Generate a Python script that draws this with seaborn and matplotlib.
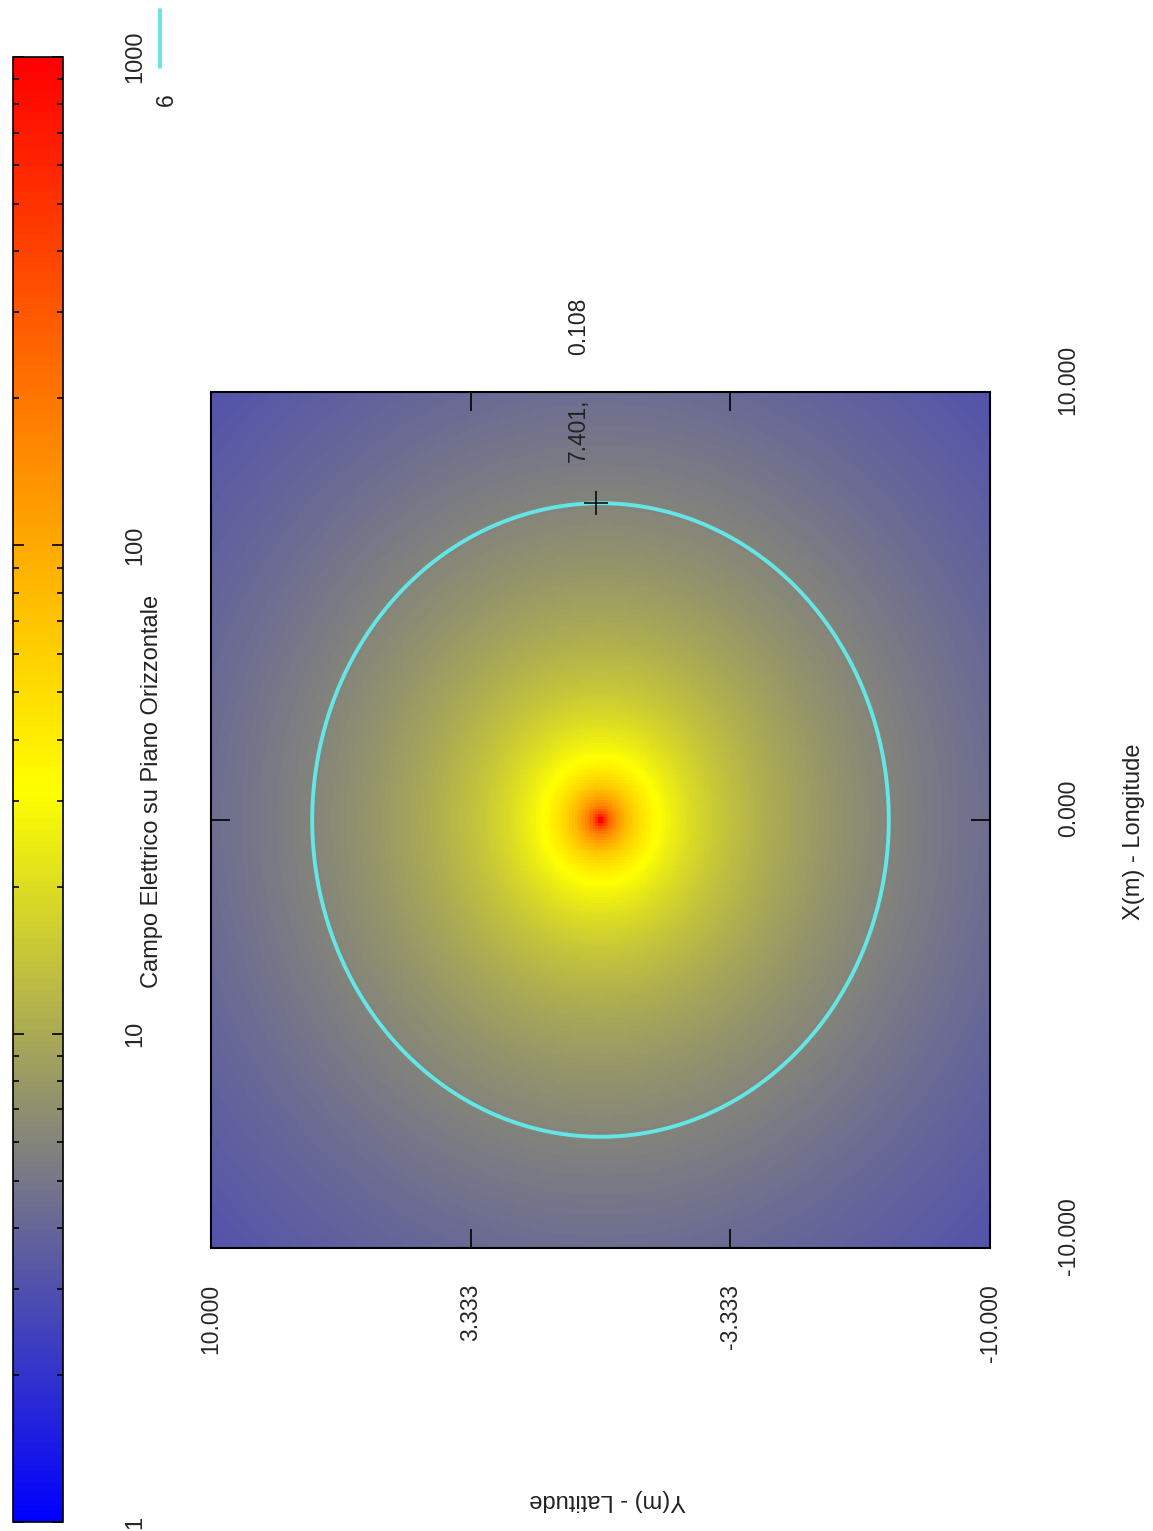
import numpy as np
import pandas as pd
import seaborn as sns
import matplotlib.pyplot as plt
from matplotlib.colors import LinearSegmentedColormap, LogNorm
from matplotlib.lines import Line2D
from matplotlib.ticker import LogLocator
from matplotlib import transforms

# radial profile of the field (distance from source [m], field value)
radius = [0.05, 0.15, 0.5, 1.25, 3.0, 7.401, 10.0, 14.14]
field = [1000, 420, 115, 38, 15, 6, 4.4, 3.1]

x_ticks = [-10.0, 0.0, 10.0]            # X(m) - Longitude
y_ticks = [10.0, 3.333, -3.333, -10.0]  # Y(m) - Latitude
cbar_ticks = [1, 10, 100, 1000]
contour_level = 6
probe_x, probe_y = 7.401, 0.108
title = "Campo Elettrico su Piano Orizzontale"

W, H = 1153, 1531
n = 300
cyan = "#62e6e6"
fs_tick = 16.5
fs_lab = 17

# grid: rows = X from +10 (top) to -10, columns = Y from +10 (left) to -10
xs = 10 - (np.arange(n) + 0.5) * 20 / n
ys = 10 - (np.arange(n) + 0.5) * 20 / n
R = np.hypot(xs[:, None], ys[None, :])
logE = np.interp(np.log10(np.clip(R, radius[0], None)), np.log10(radius), np.log10(field))
df = pd.DataFrame(10 ** logE, index=np.round(xs, 3), columns=np.round(ys, 3))

def col(v):
    return (10 - v) / 20 * n

def row(u):
    return (10 - u) / 20 * n

sns.set_theme(style="white")
plt.rcParams["font.family"] = ["Liberation Sans", "DejaVu Sans"]
plt.rcParams["font.size"] = fs_tick
plt.rcParams["text.color"] = "#222222"

cmap = LinearSegmentedColormap.from_list(
    "gp", [(0.0, "#0000ff"), (0.25, "#808080"), (0.5, "#ffff00"), (1.0, "#ff0000")])

fig = plt.figure(figsize=(W / 100, H / 100), dpi=100)
ax = fig.add_axes([211 / W, 1 - 1248 / H, 779 / W, 856 / H])
cax = fig.add_axes([13 / W, 1 - 1522 / H, 50 / W, 1465 / H])

sns.heatmap(df, ax=ax, cbar_ax=cax, cmap=cmap, norm=LogNorm(1, 1000),
            xticklabels=False, yticklabels=False, rasterized=True)
ax.set_axisbelow(False)
cax.set_axisbelow(False)

for s in ax.spines.values():
    s.set_visible(True)
    s.set_color("black")
    s.set_linewidth(1.5)

# contour of the level 6
ax.contour(np.arange(n) + 0.5, np.arange(n) + 0.5, df.values,
           levels=[contour_level], colors=cyan, linewidths=2.8)

# probe point
px, py = col(probe_y), row(probe_x)
ax.plot(px, py, marker="+", ms=17, mew=1.1, color="black")
ax.annotate(f"{probe_x:.3f},", xy=(px, py), xytext=(-18, 41), textcoords="offset pixels",
            rotation=90, ha="center", va="bottom", fontsize=fs_tick)
ax.annotate(f"{probe_y:.3f}", xy=(px, py), xytext=(-18, 148), textcoords="offset pixels",
            rotation=90, ha="center", va="bottom", fontsize=fs_tick)

# ticks
ax.set_xticks([col(v) for v in y_ticks])
ax.set_xticklabels([f"{v:.3f}" for v in y_ticks])
ax.set_yticks([row(u) for u in x_ticks])
ax.set_yticklabels([f"{u:.3f}" for u in x_ticks])
ax.tick_params(axis="both", direction="in", length=14, width=1.2, color="black",
               top=True, bottom=True, left=True, right=True,
               labelleft=False, labelright=True, labelsize=fs_tick)
ax.tick_params(axis="x", pad=26)
ax.tick_params(axis="y", pad=48)
for lab in ax.get_xticklabels():
    lab.set_rotation(90)
    lab.set_ha("center")
    lab.set_va("top")
for lab in ax.get_yticklabels():
    lab.set_rotation(90)
    lab.set_ha("left")
    lab.set_va("center")
    lab.set_transform(lab.get_transform() +
                      transforms.ScaledTranslation(0, 0.12, fig.dpi_scale_trans))

# colorbar
cbar = ax.collections[0].colorbar
cbar.set_ticks(cbar_ticks)
cbar.set_ticklabels([str(t) for t in cbar_ticks])
cax.yaxis.set_minor_locator(LogLocator(subs=range(2, 10)))
cax.tick_params(which="both", direction="in", left=True, right=True, color="black",
                width=1.2, pad=44, labelsize=fs_lab)
cax.tick_params(which="major", length=8)
cax.tick_params(which="minor", length=4)
for lab in cax.get_yticklabels():
    lab.set_rotation(90)
    lab.set_va("center")
    lab.set_ha("left")
cbar.outline.set_edgecolor("black")
cbar.outline.set_linewidth(1.2)

# titles and labels
fig.text(152 / W, 1 - 791 / H, title, rotation=90, ha="center", va="center", fontsize=fs_lab)
fig.text(1134 / W, 1 - 832 / H, "X(m) - Longitude", rotation=90, ha="center", va="center", fontsize=fs_lab)
fig.text(608 / W, 1 - 1500 / H, "Y(m) - Latitude", rotation=180, ha="center", va="center", fontsize=fs_lab)

# key
fig.add_artist(Line2D([160 / W, 160 / W], [1 - 10 / H, 1 - 67 / H], color=cyan, lw=2.8))
fig.text(166 / W, 1 - 100 / H, str(contour_level), rotation=90, ha="center", va="center", fontsize=fs_tick)

fig.savefig("out.png", dpi=100)
